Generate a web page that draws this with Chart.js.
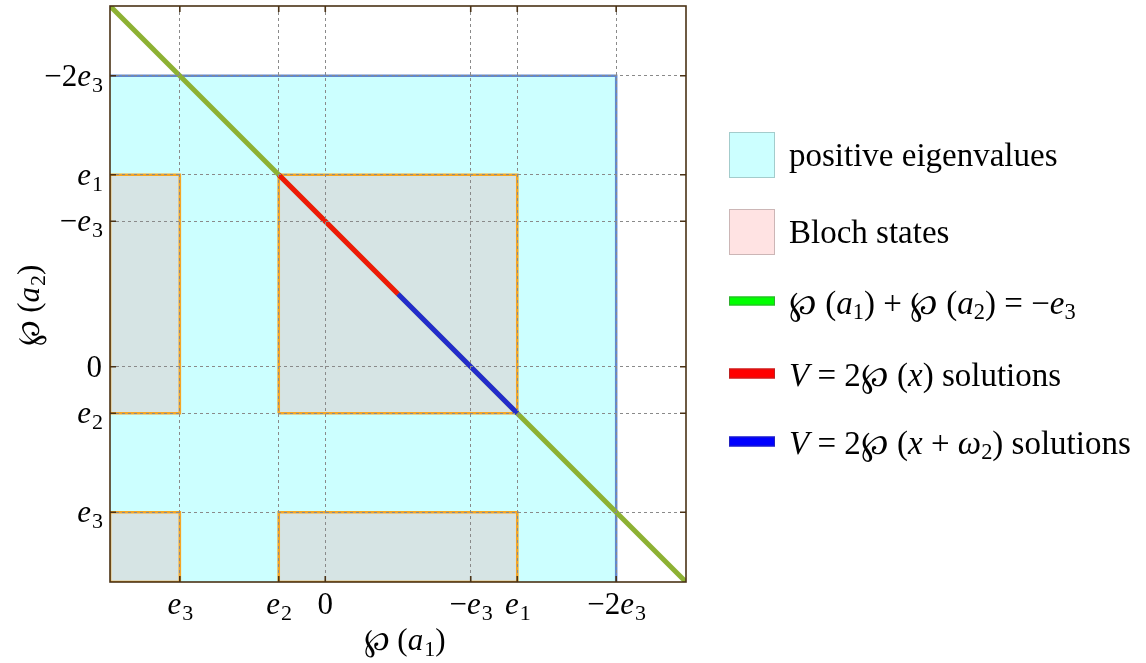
<!DOCTYPE html>
<html>
<head>
<meta charset="utf-8">
<script src="https://cdn.jsdelivr.net/npm/chart.js@4.4.1/dist/chart.umd.min.js"></script>
<style>
  html, body { margin: 0; padding: 0; background: #fff; }
  #wrap { position: relative; width: 1146px; height: 663px; }
  #legend { position: absolute; left: 729px; top: 0; font-family: 'Liberation Serif', 'DejaVu Serif', serif; font-size: 33px; color: #000; }
  .item { position: absolute; left: 0; display: flex; align-items: center; white-space: nowrap; transform: translateY(-50%); }
  .sw { width: 46px; box-sizing: border-box; margin-right: 14px; flex: none; }
  .item i { font-style: italic; }
  .item sub { font-size: 68%; font-style: normal; vertical-align: -0.25em; line-height: 0; }
</style>
</head>
<body>
<div id="wrap">
  <canvas id="chart-weierstrass"></canvas>
  <div id="legend">
    <div class="item" style="top:155px"><span class="sw" style="height:46px;background:#ccffff;border:1.5px solid #a3cccc"></span>positive eigenvalues</div>
    <div class="item" style="top:232px"><span class="sw" style="height:46px;background:#ffe3e3;border:1.5px solid #ccb6b6"></span>Bloch states</div>
    <div class="item" style="top:301px"><span class="sw" style="height:9px;background:#00ff00;border:1px solid #33aa33"></span><span>℘ (<i>a</i><sub>1</sub>) + ℘ (<i>a</i><sub>2</sub>) = −<i>e</i><sub>3</sub></span></div>
    <div class="item" style="top:373px"><span class="sw" style="height:10px;background:#ff0000;border:1px solid #bb2222"></span><span><i>V</i> = 2℘ (<i>x</i>) solutions</span></div>
    <div class="item" style="top:441px"><span class="sw" style="height:10px;background:#0000ff;border:1px solid #2222bb"></span><span><i>V</i> = 2℘ (<i>x</i> + <i>ω</i><sub>2</sub>) solutions</span></div>
  </div>
</div>
<script>
// roots of the Weierstrass cubic (e1 + e2 + e3 = 0)
const e1 = 1.32;
const e2 = -0.32;
const e3 = -1;

const axisMin = -1.48;
const axisMax = 2.48;

const xTickValues = [e3, e2, 0, -e3, e1, -2 * e3];
const xTickLabels = ['e₃', 'e₂', '0', '−e₃', 'e₁', '−2e₃'];
const yTickValues = [e3, e2, 0, -e3, e1, -2 * e3];
const yTickLabels = ['e₃', 'e₂', '0', '−e₃', 'e₁', '−2e₃'];
const xTitle = '℘ (a₁)';
const yTitle = '℘ (a₂)';

// positive eigenvalues region: x < -2e3, y < -2e3
const eigenX = [axisMin, -2 * e3];
const eigenTop = [-2 * e3, -2 * e3];
const eigenEdgeX = [axisMin, -2 * e3, -2 * e3];
const eigenEdgeY = [-2 * e3, -2 * e3, axisMin];

// Bloch state boxes [x0, x1, y0, y1]
const blochBoxes = [
  [axisMin, e3, e2, e1],
  [e2, e1, e2, e1],
  [axisMin, e3, axisMin, e3],
  [e2, e1, axisMin, e3]
];

// p(a1) + p(a2) = -e3
const greenX = [-1.48, 2.48];
const greenY = [2.48, -1.48];
const redX = [e2, 0.5];
const redY = [e1, 0.5];
const blueX = [0.5, e1];
const blueY = [0.5, e2];

const pts = (xs, ys) => xs.map((x, i) => ({ x: x, y: ys[i] }));

const datasets = [];

datasets.push({
  label: 'positive eigenvalues',
  data: pts(eigenX, eigenTop),
  backgroundColor: '#ccffff',
  borderWidth: 0,
  fill: 'start',
  order: 10
});

blochBoxes.forEach(b => {
  datasets.push({
    label: 'Bloch states',
    data: pts([b[0], b[1]], [b[3], b[3]]),
    backgroundColor: '#d6e4e4',
    borderWidth: 0,
    fill: { value: b[2] },
    order: 9
  });
  datasets.push({
    label: 'Bloch edge',
    data: pts([b[0], b[0], b[1], b[1], b[0]], [b[2], b[3], b[3], b[2], b[2]]),
    borderColor: '#f5a626',
    borderWidth: 2.6,
    fill: false,
    order: 8
  });
});

datasets.push({
  label: 'eigen edge',
  data: pts(eigenEdgeX, eigenEdgeY),
  borderColor: '#6288cc',
  borderWidth: 2.5,
  fill: false,
  order: 7
});

datasets.push({
  label: '℘(a1) + ℘(a2) = −e3',
  data: pts(greenX, greenY),
  borderColor: '#8db133',
  borderWidth: 5,
  fill: false,
  order: 6
});

datasets.push({
  label: 'V = 2℘(x) solutions',
  data: pts(redX, redY),
  borderColor: 'rgba(255, 0, 0, 0.85)',
  borderWidth: 5,
  fill: false,
  order: 5
});

datasets.push({
  label: 'V = 2℘(x + ω2) solutions',
  data: pts(blueX, blueY),
  borderColor: 'rgba(0, 0, 255, 0.75)',
  borderWidth: 5,
  fill: false,
  order: 4
});

// math-style text: italic letters, upright digits, lowered subscripts
const SERIF = '"Liberation Serif", "DejaVu Serif", serif';
function mathParts(str) {
  const parts = [];
  for (const ch of str) {
    const code = ch.charCodeAt(0);
    let p;
    if (code >= 0x2080 && code <= 0x2089) p = { t: String(code - 0x2080), k: 'sub' };
    else if (/[a-zA-Zω]/.test(ch)) p = { t: ch, k: 'it' };
    else p = { t: ch, k: 'rm' };
    const last = parts[parts.length - 1];
    if (last && last.k === p.k) last.t += p.t; else parts.push(p);
  }
  return parts;
}
function fontFor(k, size) {
  if (k === 'it') return 'italic ' + size + 'px ' + SERIF;
  if (k === 'sub') return Math.round(size * 0.7) + 'px ' + SERIF;
  return size + 'px ' + SERIF;
}
function drawMath(ctx, str, x, y, align, size) {
  const parts = mathParts(str);
  let w = 0;
  parts.forEach(p => { ctx.font = fontFor(p.k, size); p.w = ctx.measureText(p.t).width; w += p.w; });
  let cx = align === 'right' ? x - w : align === 'center' ? x - w / 2 : x;
  ctx.textAlign = 'left';
  ctx.textBaseline = 'alphabetic';
  parts.forEach(p => {
    ctx.font = fontFor(p.k, size);
    ctx.fillText(p.t, cx, p.k === 'sub' ? y + size * 0.2 : y);
    cx += p.w + (p.k === 'it' ? 1 : 0);
  });
}

const axisTextPlugin = {
  id: 'axisText',
  afterDraw(chart) {
    const { ctx, chartArea: a, scales } = chart;
    ctx.save();
    ctx.fillStyle = '#000';
    xTickValues.forEach((v, i) => {
      drawMath(ctx, xTickLabels[i], scales.x.getPixelForValue(v), a.bottom + 32, 'center', 31);
    });
    yTickValues.forEach((v, i) => {
      drawMath(ctx, yTickLabels[i], a.left - 8, scales.y.getPixelForValue(v) + 10, 'right', 31);
    });
    drawMath(ctx, xTitle, (a.left + a.right) / 2 + 6, a.bottom + 68, 'center', 31);
    ctx.translate(39, (a.top + a.bottom) / 2 + 12);
    ctx.rotate(-Math.PI / 2);
    drawMath(ctx, yTitle, 0, 0, 'center', 31);
    ctx.restore();
  }
};

const framePlugin = {
  id: 'frame',
  afterDraw(chart) {
    const { ctx, chartArea: a, scales } = chart;
    ctx.save();
    ctx.strokeStyle = '#4a3216';
    ctx.lineWidth = 1.6;
    ctx.beginPath();
    xTickValues.forEach(v => {
      const px = scales.x.getPixelForValue(v);
      ctx.moveTo(px, a.bottom); ctx.lineTo(px, a.bottom - 6);
      ctx.moveTo(px, a.top); ctx.lineTo(px, a.top + 6);
    });
    yTickValues.forEach(v => {
      const py = scales.y.getPixelForValue(v);
      ctx.moveTo(a.left, py); ctx.lineTo(a.left + 6, py);
      ctx.moveTo(a.right, py); ctx.lineTo(a.right - 6, py);
    });
    ctx.stroke();
    ctx.strokeRect(a.left, a.top, a.right - a.left, a.bottom - a.top);
    ctx.restore();
  }
};

new Chart(document.getElementById('chart-weierstrass'), {
  type: 'line',
  data: { datasets: datasets },
  options: {
    responsive: true,
    maintainAspectRatio: false,
    animation: false,
    elements: { point: { radius: 0 }, line: { tension: 0 } },
    layout: { padding: { left: 0, top: 6, right: 460, bottom: 0 } },
    plugins: {
      legend: { display: false },
      tooltip: { enabled: false },
      filler: { propagate: false }
    },
    scales: {
      x: {
        type: 'linear',
        min: axisMin,
        max: axisMax,
        afterBuildTicks: s => { s.ticks = xTickValues.map(v => ({ value: v })); },
        afterFit: s => { s.height = 81; s.paddingLeft = 0; s.paddingRight = 0; },
        ticks: { display: false },
        grid: { color: '#8a8a8a', lineWidth: 1, drawTicks: false, z: 1 },
        border: { display: false, dash: [3, 3] }
      },
      y: {
        type: 'linear',
        min: axisMin,
        max: axisMax,
        afterBuildTicks: s => { s.ticks = yTickValues.map(v => ({ value: v })); },
        afterFit: s => { s.width = 110; s.paddingTop = 0; s.paddingBottom = 0; },
        ticks: { display: false },
        grid: { color: '#8a8a8a', lineWidth: 1, drawTicks: false, z: 1 },
        border: { display: false, dash: [3, 3] }
      }
    }
  },
  plugins: [axisTextPlugin, framePlugin]
});
</script>
</body>
</html>
